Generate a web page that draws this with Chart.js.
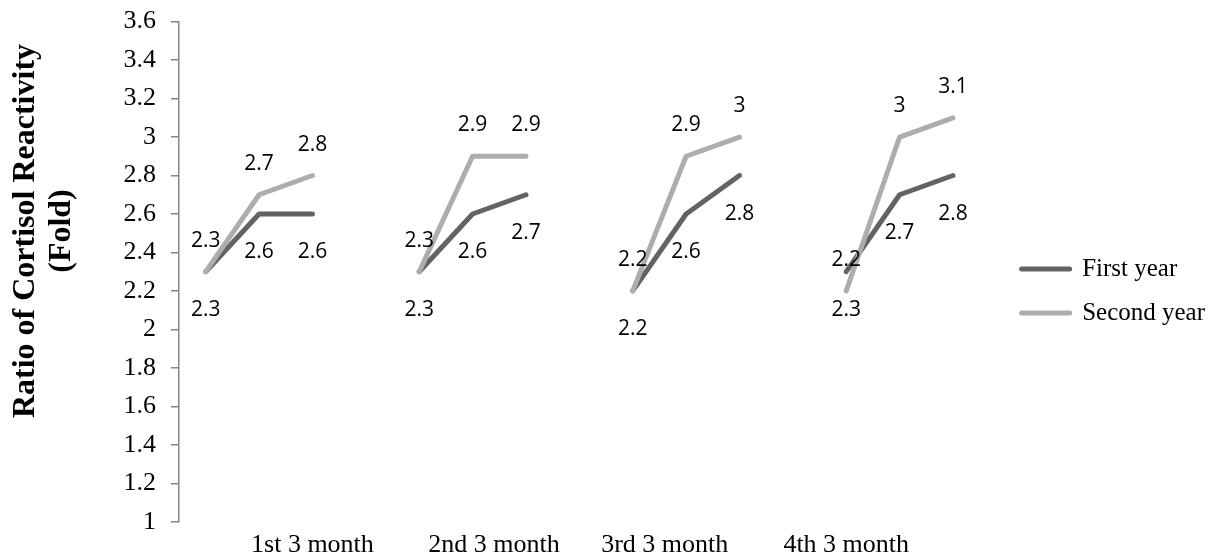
<!DOCTYPE html>
<html>
<head>
<meta charset="utf-8">
<script src="https://cdn.jsdelivr.net/npm/chart.js@4.4.1/dist/chart.umd.min.js"></script>
<style>
  html, body { margin: 0; padding: 0; background: #fff; overflow: hidden; }
  #wrap { position: relative; width: 1215px; height: 578px; margin-top: -9px; }
</style>
</head>
<body>
<div id="wrap"><canvas id="cortisolChart"></canvas></div>
<script>
// three readings per quarter, a null slot keeps the quarters apart
const firstYear  = [2.3, 2.6, 2.6, null, 2.3, 2.6, 2.7, null, 2.2, 2.6, 2.8, null, 2.3, 2.7, 2.8];
const secondYear = [2.3, 2.7, 2.8, null, 2.3, 2.9, 2.9, null, 2.2, 2.9, 3.0, null, 2.2, 3.0, 3.1];
const seriesNames = ['First year', 'Second year'];
const quarterLabels = ['1st 3 month', '2nd 3 month', '3rd 3 month', '4th 3 month'];
const quarterTickAt = [2, 5.4, 8.6, 12];
const yTitleLines = ['Ratio of Cortisol Reactivity', '(Fold)'];

const serif = 'Liberation Serif, Times New Roman, serif';
const toPoints = arr => arr.map((v, i) => ({ x: i, y: v }));

// value labels: second year above the line, first year below
const pointValueLabels = {
    id: 'pointValueLabels',
    afterDatasetsDraw(chart) {
        const ctx = chart.ctx;
        ctx.save();
        ctx.font = '21px "Open Sans", sans-serif';
        ctx.fillStyle = '#000';
        ctx.textAlign = 'center';
        ctx.textBaseline = 'alphabetic';
        chart.data.datasets.forEach((ds, i) => {
            const meta = chart.getDatasetMeta(i);
            const above = i === 1;
            meta.data.forEach((pt, j) => {
                const v = ds.data[j].y;
                if (v == null) return;
                ctx.fillText(String(v), pt.x, above ? pt.y - 25 : pt.y + 44);
            });
        });
        ctx.restore();
    }
};

// two-line rotated title at the far left, sits a bit above the plot centre
const yAxisTitle = {
    id: 'yAxisTitle',
    afterDraw(chart) {
        const ctx = chart.ctx;
        ctx.save();
        ctx.font = 'bold 32px ' + serif;
        ctx.fillStyle = '#000';
        ctx.textAlign = 'center';
        ctx.textBaseline = 'alphabetic';
        yTitleLines.forEach((line, i) => {
            ctx.save();
            ctx.translate(34 + i * 36, 240);
            ctx.rotate(-Math.PI / 2);
            ctx.fillText(line, 0, 0);
            ctx.restore();
        });
        ctx.restore();
    }
};

const lineStyle = color => ({
    borderColor: color,
    backgroundColor: color,
    borderWidth: 5,
    borderCapStyle: 'round',
    borderJoinStyle: 'round',
    pointRadius: 0,
    pointHoverRadius: 0,
    pointBorderWidth: 5,
    pointBorderColor: color,
    pointStyle: 'line',
    spanGaps: false,
    tension: 0
});

const ctx = document.getElementById('cortisolChart').getContext('2d');
new Chart(ctx, {
    type: 'line',
    data: {
        datasets: [
            { label: seriesNames[0], data: toPoints(firstYear), order: 1, ...lineStyle('#636363') },
            { label: seriesNames[1], data: toPoints(secondYear), order: 0, ...lineStyle('#adadad') }
        ]
    },
    options: {
        responsive: true,
        maintainAspectRatio: false,
        animation: false,
        events: [],
        layout: { padding: { left: 108.5, top: 0, right: 0, bottom: 0 } },
        scales: {
            x: {
                type: 'linear',
                min: -0.5,
                max: 14.93,
                afterBuildTicks: axis => { axis.ticks = quarterTickAt.map(v => ({ value: v })); },
                ticks: {
                    autoSkip: false,
                    maxRotation: 0,
                    padding: 8,
                    color: '#000',
                    font: { family: serif, size: 26 },
                    callback: (v, i) => quarterLabels[i]
                },
                grid: { display: false, drawTicks: false },
                border: { display: false }
            },
            y: {
                min: 1,
                max: 3.6,
                ticks: {
                    stepSize: 0.2,
                    padding: 15,
                    color: '#000',
                    font: { family: serif, size: 26 },
                    callback: v => Math.round(v * 10) / 10
                },
                grid: { drawOnChartArea: false, drawTicks: true, tickLength: 8, color: '#868686', lineWidth: 1.5 },
                border: { display: true, color: '#868686', width: 1.5 }
            }
        },
        plugins: {
            tooltip: { enabled: false },
            legend: {
                position: 'right',
                title: { display: true, text: '', padding: 0, font: { size: 22, lineHeight: 1 } },
                labels: {
                    usePointStyle: true,
                    pointStyle: 'line',
                    pointStyleWidth: 48,
                    padding: 19,
                    color: '#000',
                    font: { family: serif, size: 25 },
                    generateLabels: chart => Chart.defaults.plugins.legend.labels.generateLabels(chart)
                        .sort((a, b) => a.datasetIndex - b.datasetIndex)
                        .map(item => ({ ...item, lineWidth: 5, lineCap: 'round' }))
                }
            }
        }
    },
    plugins: [pointValueLabels, yAxisTitle]
});
</script>
</body>
</html>
